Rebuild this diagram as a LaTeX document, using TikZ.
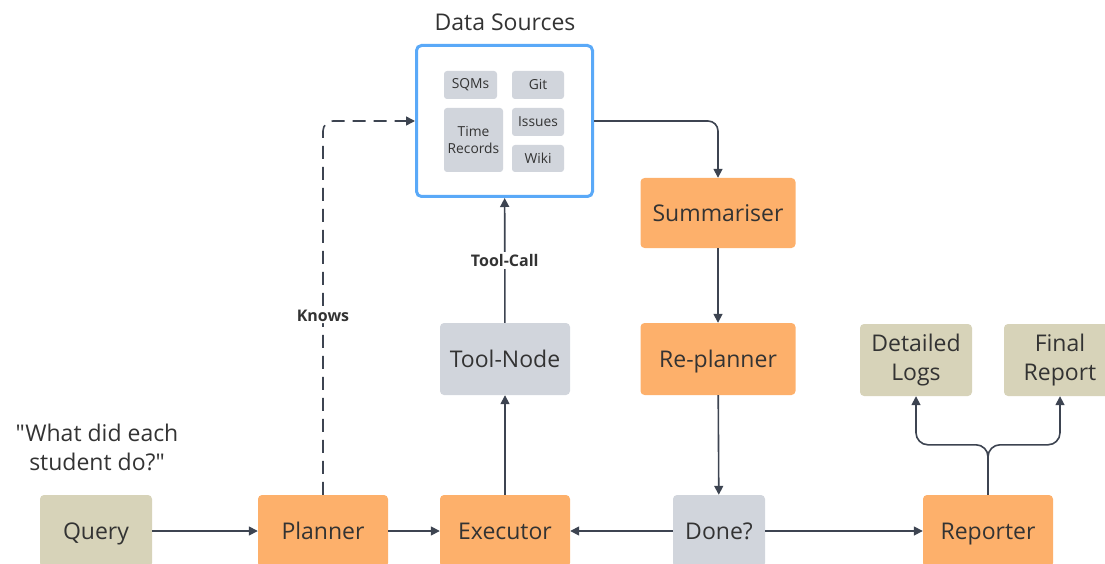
\documentclass[tikz,border=0pt]{standalone}
\usepackage{fontspec}
\setmainfont[Ligatures=TeXOff]{Open Sans}
\usepackage{tikz}
\usetikzlibrary{arrows.meta,positioning,calc}

\definecolor{agentorange}{HTML}{FDB06B}
\definecolor{iotan}{HTML}{D7D3B9}
\definecolor{toolgray}{HTML}{D1D5DC}
\definecolor{srcblue}{HTML}{5AA9F8}
\definecolor{wire}{HTML}{3D4451}
\definecolor{ink}{HTML}{333333}

\begin{document}
\begin{tikzpicture}[x=1pt, y=-1pt, every node/.style={font=\fontsize{23}{29}\selectfont, text=ink}, block/.style={rounded corners=4pt, inner sep=0pt, minimum height=72pt}, oneline/.style={text depth=0pt}, agent/.style={block, oneline, fill=agentorange, minimum width=130pt}, iobox/.style={block, align=center, fill=iotan, minimum width=112pt}, toolbox/.style={block, oneline, fill=toolgray, minimum width=130pt}, srcitem/.style={fill=toolgray, rounded corners=3pt, align=center, inner sep=0pt, minimum width=52pt, minimum height=28pt, font=\fontsize{13.8}{17}\selectfont}, lbl/.style={fill=white, font=\fontsize{16}{18}\selectfont\bfseries, inner sep=2pt}, arr/.style={-{Triangle[length=9pt,width=9pt]}, line width=1.6pt, draw=wire}]
\useasboundingbox (0,0) rectangle (1105,564);

% bottom row
\node[block, oneline, fill=iotan, minimum width=112pt] (query) at (96,531) {Query};
\node[agent] (planner) at (323,531) {Planner};
\node[agent] (executor) at (505,531) {Executor};
\node[toolbox, minimum width=92pt] (done) at (719,531) {Done?};
\node[agent] (reporter) at (988,531) {Reporter};
\node[align=center] (question) at (97,447) {"What did each\\student do?"};

% middle and top
\node[toolbox] (toolnode) at (505,359) {Tool-Node};
\node[agent, minimum width=155pt, minimum height=70pt] (summariser) at (718,213) {Summariser};
\node[agent, minimum width=155pt] (replanner) at (718,359) {Re-planner};
\node[iobox] (logs) at (916,360) {Detailed\\Logs};
\node[iobox] (final) at (1060,360) {Final\\Report};

% data sources
\node[draw=srcblue, line width=3pt, rounded corners=5pt, minimum width=176pt, minimum height=151pt, fill=white] (sources) at (504.5,121) {};
\node (srctitle) at (505,22) {Data Sources};
\node[srcitem, minimum width=53pt] (sqms) at (470.5,85) {SQMs};
\node[srcitem] (git) at (538,85) {Git};
\node[srcitem, minimum width=59pt, minimum height=64pt] (time) at (473.5,140) {Time\\Records};
\node[srcitem] (issues) at (538,122) {Issues};
\node[srcitem, minimum height=27pt] (wiki) at (538,158.5) {Wiki};

% connectors
\draw[arr] (query) -- (planner);
\draw[arr] (planner) -- (executor);
\draw[arr] (done) -- (executor);
\draw[arr] (done) -- (reporter);
\draw[arr] (executor) -- (toolnode);
\draw[arr] (toolnode) -- node[lbl]{Tool-Call} (sources);
\draw[arr, dash pattern=on 13pt off 8pt, rounded corners=10pt] (planner.north) |- node[lbl, pos=0.24]{Knows} (sources.west);
\draw[arr, rounded corners=10pt] (sources.east) -| (summariser.north);
\draw[arr] (summariser) -- (replanner);
\draw[arr] (replanner) -- (done);
\draw[arr, rounded corners=12pt] (reporter.north) -- ++(0,-50) -| (logs.south);
\draw[arr, rounded corners=12pt] (reporter.north) -- ++(0,-50) -| (final.south);
\end{tikzpicture}
\end{document}
